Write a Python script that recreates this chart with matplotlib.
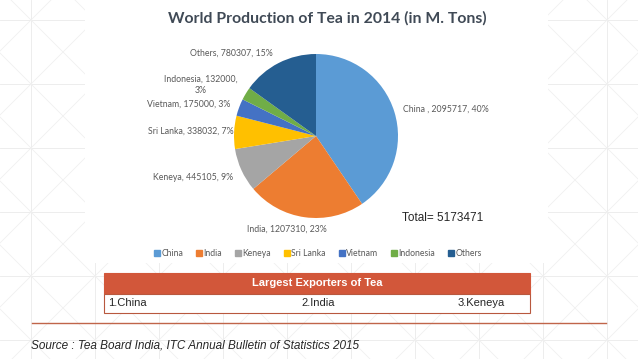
import matplotlib
matplotlib.use("Agg")
import matplotlib.pyplot as plt
from matplotlib.patches import Rectangle
from matplotlib.lines import Line2D

# ---- data ----
countries = ["China", "India", "Keneya", "Sri Lanka", "Vietnam", "Indonesia", "Others"]
production = [2095717, 1207310, 445105, 338032, 175000, 132000, 780307]
percents = [40, 23, 9, 7, 3, 3, 15]
label_texts = ["China , 2095717, 40%", "India, 1207310, 23%", "Keneya, 445105, 9%",
               "Sri Lanka, 338032, 7%", "Vietnam, 175000, 3%", "Indonesia, 132000,\n3%",
               "Others, 780307, 15%"]
total_text = "Total= 5173471"
title = "World Production of Tea in 2014 (in M. Tons)"
table_header = "Largest Exporters of Tea"
exporters = ["1.China", "2.India", "3.Keneya"]
source = "Source : Tea Board India, ITC Annual Bulletin of Statistics 2015"

colors = ["#5B9BD5", "#ED7D31", "#A5A5A5", "#FFC000", "#4472C4", "#70AD47", "#255E91"]

W, H = 638, 359
fig = plt.figure(figsize=(W / 100, H / 100), dpi=100)
fig.patch.set_facecolor("white")

# background: full-figure overlay axes in pixel coords (y down)
bg = fig.add_axes([0, 0, 1, 1])
bg.set_xlim(0, W)
bg.set_ylim(H, 0)
bg.axis("off")
gc = "#F0F0F0"
x0, y0, step = 31, 20, 64
xs = [x0 + step * k for k in range(-1, 11)]
ys = [y0 + step * k for k in range(-1, 7)]
for x in xs:
    bg.plot([x, x], [0, H], color="#EAEAEA", lw=0.6, zorder=0)
for y in ys:
    bg.plot([0, W], [y, y], color="#EAEAEA", lw=0.6, zorder=0)
for x in xs:
    for y in ys:
        bg.plot([x, x + step], [y, y + step], color=gc, lw=0.6, zorder=0)
        bg.plot([x + step, x], [y, y + step], color=gc, lw=0.6, zorder=0)
# white chart area
bg.add_patch(Rectangle((85, 0), 463, 263, facecolor="white", edgecolor="none", zorder=1))

# title
bg.text(327, 18, title, ha="center", va="center", fontsize=11.3, fontweight="bold",
        family="Lato", color="#404A56", zorder=3)

# table
tcol = "#D2573A"
bg.add_patch(Rectangle((104, 273), 426, 21, facecolor=tcol, edgecolor=tcol, lw=0.8, zorder=2))
bg.add_patch(Rectangle((104, 294), 426, 18.5, facecolor="white", edgecolor="#B8583E", lw=0.8, zorder=2))
bg.text(317, 283.5, table_header, ha="center", va="center", fontsize=8, fontweight="bold",
        family="Liberation Sans", color="white", zorder=3)
bg.text(108, 303.5, exporters[0], ha="left", va="center", fontsize=8,
        family="Liberation Sans", color="#262626", zorder=3)
bg.text(318, 303.5, exporters[1], ha="center", va="center", fontsize=8,
        family="Liberation Sans", color="#262626", zorder=3)
bg.text(505, 303.5, exporters[2], ha="right", va="center", fontsize=8,
        family="Liberation Sans", color="#262626", zorder=3)

# red rule and source
bg.plot([32, 606], [323, 323], color="#C0654A", lw=1.0, zorder=3)
bg.text(31, 346, source, ha="left", va="center", fontsize=8.5, style="italic",
        family="Liberation Sans", color="#262626", zorder=3)

# total
bg.text(402, 218, total_text, ha="left", va="center", fontsize=8.5,
        family="Liberation Sans", color="#262626", zorder=3)

# pie axes
cx, cy, r = 316, 136, 82
ax = fig.add_axes([(cx - r) / W, (H - cy - r) / H, 2 * r / W, 2 * r / H])
ax.set_zorder(5)
ax.pie(production, colors=colors, startangle=90, counterclock=False, radius=1.0,
       wedgeprops=dict(edgecolor="none"))
ax.set_xlim(-1, 1)
ax.set_ylim(-1, 1)
ax.set_aspect("equal")
ax.axis("off")

# label layout (relative to radius)
label_pos = [(1.06, 0.33, "left"), (-0.36, -1.14, "center"), (-1.01, -0.50, "right"),
             (-1.01, 0.06, "right"), (-1.05, 0.39, "right"), (-1.41, 0.62, "center"),
             (-1.03, 1.01, "center")]
for txt, (lx, ly, ha) in zip(label_texts, label_pos):
    ax.text(lx, ly, txt, ha=ha, va="center", fontsize=6.3, family="Lato",
            color="#595959", clip_on=False, multialignment="center", linespacing=1.3)

# legend
handles = [Line2D([0], [0], marker="s", linestyle="none", markersize=4.5,
                  markerfacecolor=c, markeredgecolor=c) for c in colors]
leg = fig.legend(handles, countries, loc="center", bbox_to_anchor=(318 / W, 1 - 254 / H),
                 ncol=7, frameon=False, handlelength=0.7, handletextpad=0.15,
                 columnspacing=1.5, prop=dict(family="Lato", size=6.2))
for t in leg.get_texts():
    t.set_color("#595959")

fig.savefig("out.png", dpi=100, facecolor="white")
